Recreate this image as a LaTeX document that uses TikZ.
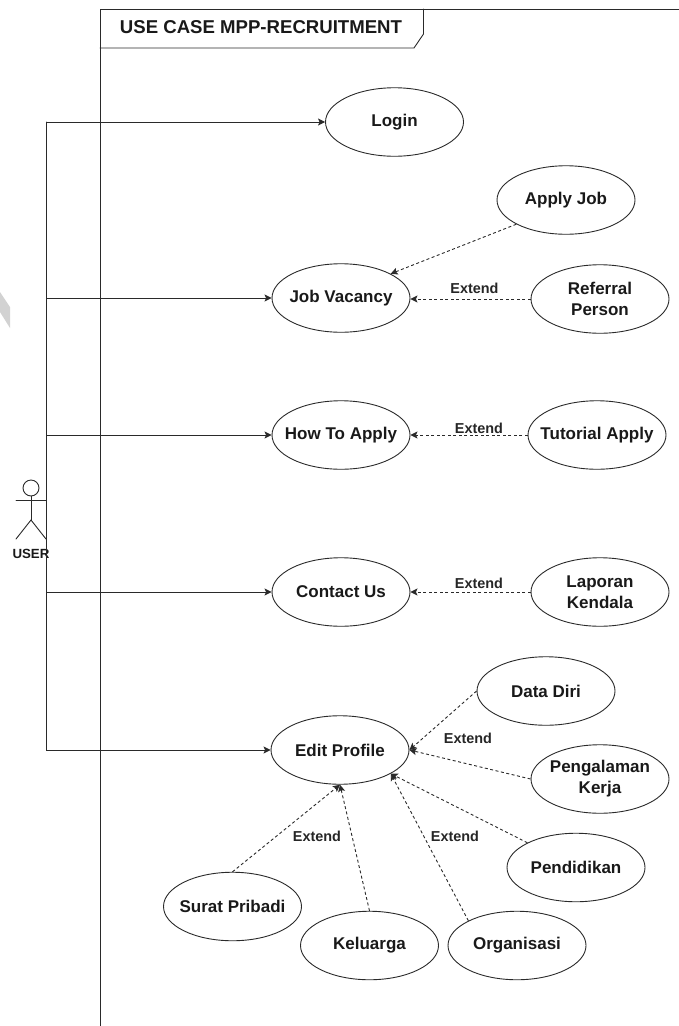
\documentclass[tikz,border=0pt]{standalone}
\usepackage{fontspec}
\setmainfont{Liberation Sans}
\usetikzlibrary{arrows.meta,shapes.geometric}
\definecolor{ink}{HTML}{2A2A2A}
\definecolor{wm}{HTML}{D2D2D2}
\tikzset{
  uc/.style={ellipse,draw=ink,line width=0.9pt,minimum width=138pt,minimum height=68.5pt,inner sep=-15pt,align=center,font=\bfseries\fontsize{17}{21}\selectfont,text=black!90},
  lbl/.style={inner sep=0pt,font=\bfseries\fontsize{14.4}{16}\selectfont,text=black!85},
  actorlbl/.style={inner sep=0pt,font=\bfseries\fontsize{13.3}{15}\selectfont,text=black!90},
  titlelbl/.style={inner sep=0pt,font=\bfseries\fontsize{18.6}{20}\selectfont,text=black!90},
  assoc/.style={draw=ink,line width=0.9pt,-{Stealth[length=7pt,width=7pt,inset=1.5pt]}},
  ext/.style={draw=ink,line width=0.9pt,dash pattern=on 3pt off 2.5pt,-{Stealth[length=7pt,width=7pt,inset=1.5pt]}},
  line/.style={draw=ink,line width=0.9pt,line cap=round},
}
\begin{document}
\begin{tikzpicture}[x=1pt,y=-1pt]
\useasboundingbox (0,0) rectangle (679,1026);
\fill[wm] (0,292) -- (10,307) -- (10,328) -- (0,312) -- cycle;
% frame
\coordinate (ftl) at (100,9);
\coordinate (ftr) at (679,9);
\coordinate (fbl) at (100,1026);
\draw[line] (ftr) -- (ftl) -- (fbl);
\coordinate (tr) at (423.5,9);
\coordinate (tb) at (423.5,34);
\coordinate (tc) at (414,48);
\coordinate (tl) at (100,48);
\draw[line] (tr) -- (tb) -- (tc) -- (tl);
\node[titlelbl] (title) at (261,27.5) {USE CASE MPP-RECRUITMENT};
% actor
\node[circle,draw=ink,line width=0.9pt,minimum size=16pt,inner sep=0pt] (head) at (31,488) {};
\coordinate (hip) at (31,520);
\coordinate (al) at (16,500);
\coordinate (ar) at (46,500);
\coordinate (ll) at (16,539);
\coordinate (lr) at (46,539);
\draw[line] (head.south) -- (hip);
\draw[line] (al) -- (ar);
\draw[line] (ll) -- (hip) -- (lr);
\node[actorlbl] (user) at (31,553.5) {USER};
% use cases
\node[uc] (login) at (394.5,122) {Login};
\node[uc] (apply) at (566,200) {Apply Job};
\node[uc] (job) at (341,298) {Job Vacancy};
\node[uc] (ref) at (600,299) {Referral\\Person};
\node[uc] (how) at (341,435) {How To Apply};
\node[uc] (tut) at (597,435) {Tutorial Apply};
\node[uc] (con) at (341,592) {Contact Us};
\node[uc] (lap) at (600,592) {Laporan\\Kendala};
\node[uc] (edit) at (340,750) {Edit Profile};
\node[uc] (diri) at (546,691) {Data Diri};
\node[uc] (kerja) at (600,779) {Pengalaman\\Kerja};
\node[uc] (pend) at (576,867.5) {Pendidikan};
\node[uc] (surat) at (232.5,906.5) {Surat Pribadi};
\node[uc] (kel) at (369.5,945.5) {Keluarga};
\node[uc] (org) at (517,945.5) {Organisasi};
% trunk
\coordinate (tx) at (46,0);
\coordinate (tt) at (tx |- login.west);
\coordinate (t2) at (tx |- job.west);
\coordinate (t3) at (tx |- how.west);
\coordinate (t4) at (tx |- con.west);
\coordinate (t5) at (tx |- edit.west);
\draw[line] (tt) -- (t5);
\draw[assoc] (tt) -- (login.west);
\draw[assoc] (t2) -- (job.west);
\draw[assoc] (t3) -- (how.west);
\draw[assoc] (t4) -- (con.west);
\draw[assoc] (t5) -- (edit.west);
% extends
\draw[ext] (apply.206) -- (job.26);
\draw[ext] (ref.west) -- (job.east |- ref.west);
\draw[ext] (tut.west) -- (how.east);
\draw[ext] (lap.west) -- (con.east);
\draw[ext] (diri.west) -- (edit.east);
\draw[ext] (kerja.west) -- (edit.east);
\draw[ext] (pend.153) -- (edit.-25);
\draw[ext] (org.153) -- (edit.-25);
\draw[ext] (kel.north) -- (edit.south);
\draw[ext] (surat.north) -- (edit.south);
\node[lbl] (e1) at (474.5,288.5) {Extend};
\node[lbl] (e2) at (479,428) {Extend};
\node[lbl] (e3) at (479,583) {Extend};
\node[lbl] (e4) at (468,738.5) {Extend};
\node[lbl] (e5) at (317,836.5) {Extend};
\node[lbl] (e6) at (455,836.5) {Extend};
\end{tikzpicture}
\end{document}
